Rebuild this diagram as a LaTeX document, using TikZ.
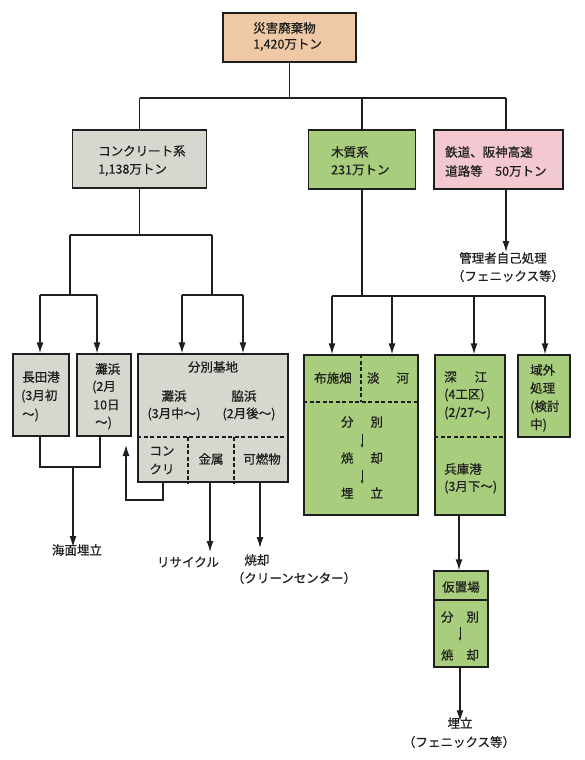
\documentclass[tikz,border=0pt]{standalone}
\usepackage{fontspec}
\setmainfont{Noto Sans CJK JP}[FakeBold=0.6]
\usetikzlibrary{arrows.meta}
\definecolor{peach}{HTML}{EFC8A6}
\definecolor{grayb}{HTML}{D6D7CF}
\definecolor{greenb}{HTML}{A8CD7C}
\definecolor{pinkb}{HTML}{F3C8D0}
\definecolor{ink}{HTML}{1E1E1E}
\begin{document}
\begin{tikzpicture}[x=1pt,y=-1pt,
  box/.style={draw=ink,line width=1.3pt,rectangle,inner sep=0pt},
  txt/.style={inner sep=0pt,text=ink,font=\fontsize{12.5}{14}\selectfont},
  lt/.style={txt,anchor=west},
  ln/.style={draw=ink,line width=1.3pt},
  arr/.style={ln,-{Latex[length=11pt,width=7pt]}},
  dsh/.style={draw=ink,line width=1.1pt,dash pattern=on 4pt off 2.5pt},
  smallarr/.style={draw=ink,line width=0.6pt,-{Latex[length=3.5pt,width=3pt]}}
]
\useasboundingbox (0,0) rectangle (584,760);

% ---------- boxes ----------
\node[box,fill=peach,minimum width=133pt,minimum height=49pt] (top) at (289.5,37.5) {};
\node[box,fill=grayb,minimum width=134pt,minimum height=58pt] (conc) at (139.5,159) {};
\node[box,fill=greenb,minimum width=107pt,minimum height=59pt] (wood) at (362,159.5) {};
\node[box,fill=pinkb,minimum width=129pt,minimum height=59pt] (rail) at (498.5,159.5) {};
\node[box,fill=grayb,minimum width=56pt,minimum height=82pt] (nag) at (41,395) {};
\node[box,fill=grayb,minimum width=54pt,minimum height=82pt] (nad) at (104,395) {};
\node[box,fill=grayb,minimum width=150pt,minimum height=128pt] (sort) at (213,418) {};
\node[box,fill=greenb,minimum width=114pt,minimum height=160pt] (fuse) at (361,435) {};
\node[box,fill=greenb,minimum width=70pt,minimum height=160pt] (fukae) at (470,435) {};
\node[box,fill=greenb,minimum width=52pt,minimum height=82pt] (iki) at (544,396) {};
\node[box,fill=greenb,minimum width=54pt,minimum height=96pt] (kari) at (461,619) {};

% ---------- inner dividers ----------
\coordinate (s1) at (0,437);
\coordinate (s2) at (188,437);
\coordinate (s3) at (234,437);
\draw[dsh] (sort.west |- s1) -- (sort.east |- s1);
\draw[dsh] (s2) -- (s2 |- sort.south);
\draw[dsh] (s3) -- (s3 |- sort.south);
\coordinate (u1) at (361,402);
\draw[dsh] (fuse.west |- u1) -- (fuse.east |- u1);
\draw[dsh] (u1 |- fuse.north) -- (u1);
\coordinate (e1) at (0,437);
\draw[dsh] (fukae.west |- e1) -- (fukae.east |- e1);
\coordinate (r1) at (0,600);
\draw[ln] (kari.west |- r1) -- (kari.east |- r1);

% ---------- texts ----------
\node[lt] (t1a) at (253,28) {災害廃棄物};
\node[lt] (t1b) at (253,45) {1,420万トン};
\node[lt] (t2a) at (98,151) {コンクリート系};
\node[lt] (t2b) at (98,170) {1,138万トン};
\node[lt] (t3a) at (331,152) {木質系};
\node[lt] (t3b) at (331,170) {231万トン};
\node[lt] (t4a) at (445,152) {鉄道、阪神高速};
\node[lt] (t4b) at (445,171) {道路等　50万トン};
\node[txt] (mgr) at (503,258) {管理者自己処理};
\node[txt] (mgr2) at (508,276) {（フェニックス等）};

\node[lt] (n1) at (22,377) {長田港};
\node[lt] (n2) at (21,396) {(3月初};
\node[lt] (n3) at (22,415) {～)};
\node[lt] (d1) at (95,369) {灘浜};
\node[lt] (d2) at (92,387) {(2月};
\node[lt] (d3) at (93,405) {10日};
\node[lt] (d4) at (95,423) {～)};

\node[txt] (b1) at (213,367) {分別基地};
\node[txt] (b2) at (174,396) {灘浜};
\node[txt] (b3) at (174,414) {(3月中～)};
\node[txt] (b4) at (244,396) {脇浜};
\node[txt] (b5) at (249,414) {(2月後～)};
\node[txt] (b6) at (162,451) {コン};
\node[txt] (b7) at (162,469) {クリ};
\node[txt] (b8) at (211,459) {金属};
\node[txt] (b9) at (262,459) {可燃物};

\node[txt] (g1) at (333,378) {布施畑};
\node[txt] (g2) at (388,378) {淡\hspace{17pt}河};
\node[txt] (g3) at (362,422) {分\hspace{17pt}別};
\node[txt] (g4) at (362,458) {焼\hspace{17pt}却};
\node[txt] (g5) at (362,493) {埋\hspace{17pt}立};
\coordinate (ga1) at (362,434);
\coordinate (ga2) at (362,448);
\coordinate (ga3) at (362,470);
\coordinate (ga4) at (362,484);
\draw[smallarr] (ga1) -- (ga2);
\draw[smallarr] (ga3) -- (ga4);

\node[lt] (f1) at (444,377) {深\hspace{18pt}江};
\node[lt] (f2) at (444,395) {(4工区)};
\node[lt] (f3) at (444,413) {(2/27～)};
\node[lt] (f4) at (444,469) {兵庫港};
\node[lt] (f5) at (444,487) {(3月下～)};

\node[lt] (i1) at (530,370) {域外};
\node[lt] (i2) at (530,388) {処理};
\node[lt] (i3) at (530,407) {(検討};
\node[lt] (i4) at (530,425) {中)};

\node[txt] (k1) at (461,587) {仮置場};
\node[txt] (k2) at (460,617) {分\hspace{13pt}別};
\node[txt] (k3) at (460,655) {焼\hspace{13pt}却};
\coordinate (ka1) at (460,627);
\coordinate (ka2) at (460,641);
\draw[smallarr] (ka1) -- (ka2);

\node[txt] (sea) at (77,550) {海面埋立};
\node[txt] (rec) at (188,562) {リサイクル};
\node[txt] (burn) at (257,560) {焼却};
\node[txt] (burn2) at (294,578) {（クリーンセンター）};
\node[txt] (ume) at (460,723) {埋立};
\node[txt] (ume2) at (459,742) {（フェニックス等）};

% ---------- connectors: top level ----------
\coordinate (j0) at (289.5,98);
\coordinate (jc) at (139.5,98);
\coordinate (jr) at (506,98);
\draw[ln] (top.south) -- (j0);
\draw[ln] (jc) -- (jr);
\draw[ln] (jc) -- (conc.north);
\draw[ln] (j0 -| wood.north) -- (wood.north);
\draw[ln] (jr) -- (jr |- rail.north);
\draw[arr] (jr |- rail.south) -- (jr |- mgr.north);

% ---------- concrete tree ----------
\coordinate (c0) at (139.5,235);
\coordinate (cL) at (70,235);
\coordinate (cR) at (212,235);
\coordinate (cL2) at (70,295);
\coordinate (cLa) at (40,295);
\coordinate (cLb) at (97,295);
\coordinate (cR2) at (212,295);
\coordinate (cRa) at (182,295);
\coordinate (cRb) at (243,295);
\draw[ln] (conc.south) -- (c0);
\draw[ln] (cL) -- (cR);
\draw[ln] (cL) -- (cL2);
\draw[ln] (cR) -- (cR2);
\draw[ln] (cLa) -- (cLb);
\draw[ln] (cRa) -- (cRb);
\draw[arr] (cLa) -- (cLa |- nag.north);
\draw[arr] (cLb) -- (cLb |- nad.north);
\draw[arr] (cRa) -- (cRa |- sort.north);
\draw[arr] (cRb) -- (cRb |- sort.north);

\coordinate (p1) at (40,467);
\coordinate (p2) at (100,467);
\coordinate (pm) at (73,467);
\draw[ln] (p1 |- nag.south) -- (p1) -- (p2) -- (p2 |- nad.south);
\draw[arr] (pm) -- ([yshift=-3pt]pm |- sea.north);

\coordinate (q1) at (163,500);
\coordinate (q2) at (126,500);
\coordinate (q3) at (126,445);
\draw[arr] (q1 |- sort.south) -- (q1) -- (q2) -- (q3);

\coordinate (mt) at (210,552);
\coordinate (bt) at (260,548);
\draw[arr] (mt |- sort.south) -- (mt);
\draw[arr] (bt |- sort.south) -- (bt);

% ---------- wood tree ----------
\coordinate (w0) at (362,296);
\coordinate (wa) at (332,296);
\coordinate (wb) at (392,296);
\coordinate (wc) at (474,296);
\coordinate (wd) at (545,296);
\draw[ln] (wood.south) -- (w0);
\draw[ln] (wa) -- (wd);
\draw[arr] (wa) -- (wa |- fuse.north);
\draw[arr] (wb) -- (wb |- fuse.north);
\draw[arr] (wc) -- (wc |- fukae.north);
\draw[arr] (wd) -- (wd |- iki.north);

\coordinate (h1) at (459,540);
\draw[arr] (h1 |- fukae.south) -- (h1 |- kari.north);
\coordinate (h2) at (460,700);
\draw[arr] (h2 |- kari.south) -- ([yshift=-4pt]h2 |- ume.north);

\end{tikzpicture}
\end{document}
